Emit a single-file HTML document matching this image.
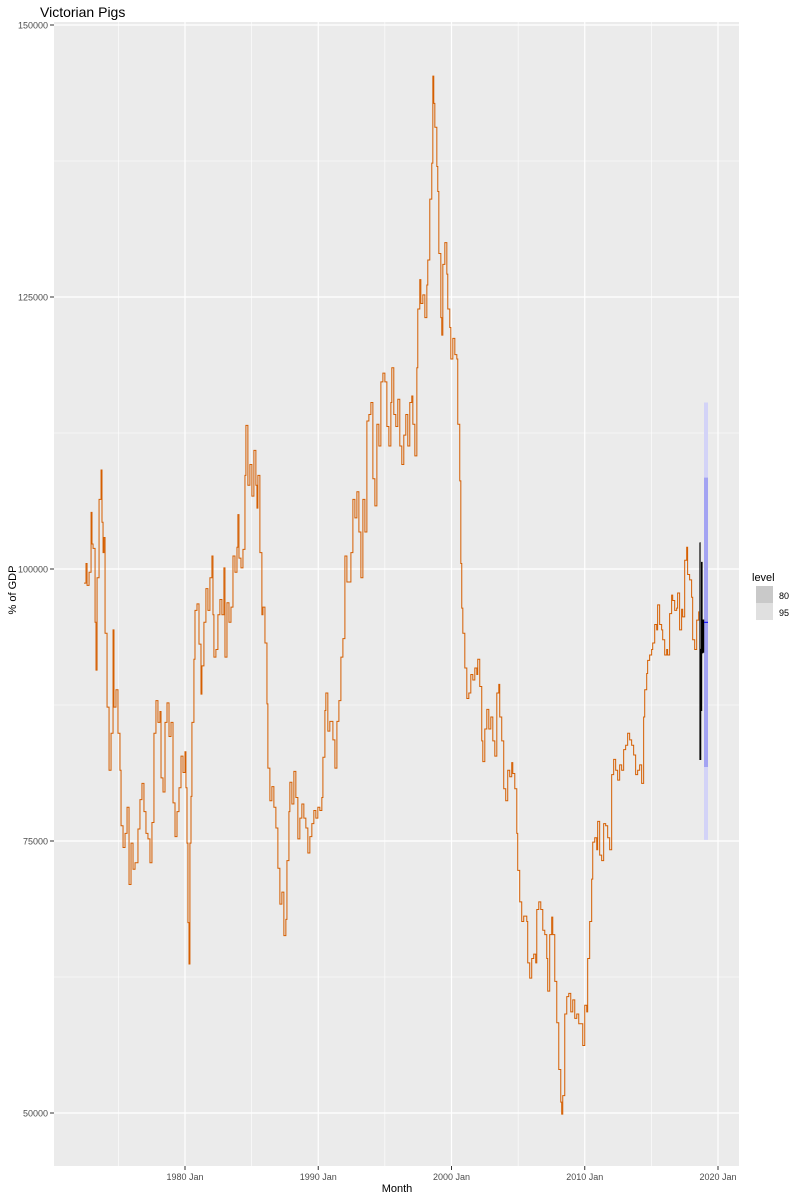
<!DOCTYPE html>
<html><head><meta charset="utf-8"><style>
body{margin:0;background:#fff;}
svg{display:block;font-family:"Liberation Sans",sans-serif;}
</style></head><body>
<svg id="chart" width="800" height="1200">
<text x="40" y="17" font-size="14" fill="#000">Victorian Pigs</text>
<rect x="54" y="22" width="685" height="1144" fill="#ebebeb"/>
<g id="grid"></g><g id="axes"></g><g id="series"></g>
<text x="397" y="1192" font-size="11" text-anchor="middle" fill="#000">Month</text>
<text transform="translate(16,590) rotate(-90)" font-size="11" text-anchor="middle" fill="#000">% of GDP</text>
<g>
<text x="752" y="581" font-size="11" fill="#000">level</text>
<rect x="756" y="586" width="17" height="17" fill="#c9c9c9"/>
<rect x="756" y="603" width="17" height="17" fill="#e0e0e0"/>
<text x="779" y="599" font-size="9" fill="#000">80</text>
<text x="779" y="616" font-size="9" fill="#000">95</text>
</g>
</svg>
<script>
const dates=[1972.42,1972.57,1972.65,1972.80,1972.95,1973.02,1973.10,1973.25,1973.32,1973.40,1973.55,1973.70,1973.77,1973.85,1973.92,1974.00,1974.15,1974.30,1974.45,1974.60,1974.67,1974.82,1974.97,1975.12,1975.20,1975.35,1975.50,1975.65,1975.80,1975.95,1976.10,1976.25,1976.47,1976.62,1976.77,1976.92,1977.07,1977.22,1977.37,1977.52,1977.67,1977.82,1977.97,1978.12,1978.20,1978.35,1978.50,1978.65,1978.80,1978.95,1979.10,1979.25,1979.40,1979.55,1979.70,1979.85,1980.00,1980.07,1980.15,1980.22,1980.30,1980.37,1980.45,1980.52,1980.67,1980.75,1980.90,1981.05,1981.20,1981.27,1981.42,1981.57,1981.72,1981.87,
1982.02,1982.10,1982.17,1982.32,1982.47,1982.62,1982.77,1982.92,1983.00,1983.15,1983.30,1983.45,1983.60,1983.75,1983.90,1983.97,1984.05,1984.20,1984.35,1984.50,1984.57,1984.72,1984.87,1985.02,1985.17,1985.32,1985.40,1985.47,1985.62,1985.77,1985.85,1986.00,1986.15,1986.22,1986.37,1986.52,1986.67,1986.82,1986.97,1987.12,1987.27,1987.42,1987.57,1987.65,1987.80,1987.87,1988.02,1988.17,1988.32,1988.47,1988.62,1988.77,1988.92,1989.07,1989.22,1989.37,1989.52,1989.67,1989.82,1989.97,1990.12,1990.27,1990.35,1990.50,1990.57,1990.72,1990.87,1991.10,1991.25,1991.40,1991.55,1991.70,
1991.85,1992.00,1992.15,1992.30,1992.45,1992.60,1992.75,1992.90,1993.05,1993.20,1993.35,1993.50,1993.65,1993.80,1993.95,1994.10,1994.25,1994.40,1994.55,1994.70,1994.85,1995.00,1995.15,1995.30,1995.45,1995.52,1995.67,1995.82,1995.97,1996.12,1996.27,1996.42,1996.57,1996.72,1996.87,1997.02,1997.10,1997.25,1997.40,1997.47,1997.62,1997.70,1997.85,1998.00,1998.15,1998.22,1998.37,1998.52,1998.60,1998.67,1998.75,1998.90,1998.97,1999.05,1999.20,1999.27,1999.35,1999.50,1999.65,1999.72,1999.87,1999.95,2000.10,2000.25,2000.40,2000.47,2000.62,2000.70,
2000.77,2000.85,2001.00,2001.15,2001.30,2001.45,2001.60,2001.75,2001.90,2001.97,2002.12,2002.27,2002.35,2002.50,2002.65,2002.80,2002.95,2003.10,2003.25,2003.40,2003.55,2003.62,2003.77,2003.92,2004.07,2004.22,2004.37,2004.52,2004.60,2004.75,2004.90,2004.97,2005.12,2005.27,2005.42,2005.65,2005.72,2005.87,2006.02,2006.17,2006.32,2006.40,2006.55,2006.70,2006.85,2007.00,2007.15,2007.22,2007.37,2007.52,2007.60,2007.75,2007.90,2008.05,2008.20,2008.27,2008.35,2008.50,2008.65,2008.80,2008.95,2009.10,2009.25,2009.40,2009.55,2009.70,2009.85,2010.00,2010.15,2010.22,2010.37,2010.52,2010.60,2010.75,2010.90,2010.97,2011.12,2011.27,2011.42,2011.57,2011.72,2011.87,
2012.02,2012.17,2012.32,2012.47,2012.62,2012.77,2012.92,2013.07,2013.22,2013.37,2013.52,2013.67,2013.82,2013.97,2014.12,2014.27,2014.42,2014.50,2014.65,2014.72,2014.87,2015.02,2015.10,2015.25,2015.40,2015.47,2015.62,2015.77,2015.85,2016.00,2016.15,2016.22,2016.37,2016.52,2016.60,2016.75,2016.90,2016.97,2017.12,2017.27,2017.35,2017.50,2017.65,2017.72,2017.87,2018.02,2018.10,2018.25,2018.40,2018.55];
const values=[98.7,100.5,98.5,99.7,105.2,102.3,101.9,95.1,90.7,99.2,106.4,109.1,104.3,101.5,102.9,94.1,87.3,81.5,84.9,94.4,87.3,88.9,84.9,81.5,76.4,74.4,75.7,78.1,71.0,74.8,72.4,73.0,76.1,78.8,80.3,77.7,75.7,75.2,73.0,76.7,84.9,87.9,85.9,86.9,80.8,79.5,85.9,87.7,84.6,85.9,78.5,75.4,77.7,79.9,82.8,81.3,83.2,79.9,74.8,67.5,63.7,74.8,79.1,85.9,91.7,96.2,96.8,93.1,88.5,91.1,95.1,98.2,96.2,99.2,
101.2,95.8,91.9,92.6,95.8,97.2,95.8,100.1,91.9,96.9,95.1,96.5,101.2,99.7,102.0,105.0,101.0,100.1,101.8,108.6,113.2,107.7,109.6,106.7,110.9,107.7,105.6,108.6,101.5,95.8,96.5,93.2,87.6,81.7,78.7,80.0,78.1,76.2,72.5,69.2,70.3,66.3,67.8,73.2,77.7,80.4,78.4,81.4,79.0,75.2,77.1,78.4,77.1,76.2,73.9,75.4,76.6,77.8,77.1,78.1,77.8,79.0,82.7,87.0,88.6,85.1,86.0,84.3,81.7,86.0,87.9,91.9,
93.6,101.2,98.8,98.8,101.5,106.4,104.7,107.1,103.4,99.2,106.4,103.4,113.6,114.2,115.3,108.3,105.8,113.3,111.3,117.2,118.0,117.2,113.1,111.3,115.3,118.5,114.2,113.1,115.6,111.3,109.6,112.3,114.2,111.3,115.3,115.9,113.3,110.4,118.5,123.9,126.6,124.4,125.2,123.1,126.1,128.4,134.0,137.3,145.3,142.8,140.6,137.0,134.7,129.0,123.1,121.5,128.0,130.0,127.1,123.9,122.2,119.3,121.2,119.7,119.3,113.3,108.1,100.5,
96.4,94.1,90.9,88.1,88.6,90.3,89.8,90.9,90.3,91.7,89.2,84.2,82.3,85.3,87.1,85.3,86.4,84.2,82.8,88.6,89.4,86.4,84.2,79.8,78.7,81.5,80.9,82.2,81.2,79.8,75.7,72.3,69.4,67.6,68.1,67.6,63.8,62.4,64.2,64.6,63.8,68.7,69.4,68.7,66.8,66.4,64.2,61.2,66.4,68.0,66.4,62.1,58.3,54.0,51.0,49.9,51.6,59.1,60.7,61.0,59.3,60.4,58.7,59.1,58.2,58.2,56.2,59.9,59.3,64.2,67.6,71.5,74.9,75.3,74.2,76.8,73.7,73.2,76.6,76.4,75.3,74.2,
81.1,82.5,81.5,80.6,82.0,81.5,83.4,83.8,84.9,84.3,83.8,82.9,81.1,81.5,82.0,80.3,86.4,88.9,90.4,91.6,92.1,92.6,93.2,94.9,94.4,96.7,94.9,94.4,93.5,92.1,92.6,92.1,95.9,97.6,97.1,96.2,96.4,97.8,94.4,96.3,95.6,100.8,102.0,99.5,99.0,97.4,93.5,92.6,95.3,96.1];
const testDates=[2018.62,2018.65,2018.70,2018.73,2018.77,2018.80,2018.85,2018.92];
const testValues=[102.4,82.5,92.6,87.0,100.6,92.3,95.3,92.3];
const fcDates=[2018.95,2019.25];
const fcHi95=[115.3,115.3];
const fcHi80=[108.4,108.4];
const fcLo80=[81.8,81.8];
const fcLo95=[75.1,75.1];
const fcMean=[95.1,95.1];
const yTicks=[50,75,100,125,150];
const yTickLabels=["50000","75000","100000","125000","150000"];
const yMinor=[62.5,87.5,112.5,137.5];
const xTicks=[1980,1990,2000,2010,2020];
const xTickLabels=["1980 Jan","1990 Jan","2000 Jan","2010 Jan","2020 Jan"];
const xMinor=[1975,1985,1995,2005,2015];

const NS="http://www.w3.org/2000/svg";
function xPx(t){return 185+(t-1980)*13.325;}
function yPx(v){return 1113-(v-50)*10.88;}
function mk(tag,attrs,parent){const e=document.createElementNS(NS,tag);for(const k in attrs)e.setAttribute(k,attrs[k]);parent.appendChild(e);return e;}
const grid=document.getElementById('grid'),axes=document.getElementById('axes'),ser=document.getElementById('series');
yMinor.forEach(v=>{const l=mk('line',{x1:54,x2:739,y1:yPx(v),y2:yPx(v),stroke:'#fff','stroke-width':0.6},grid);

});
xMinor.forEach(t=>{const l=mk('line',{x1:xPx(t),x2:xPx(t),y1:22,y2:1166,stroke:'#fff','stroke-width':0.6},grid);

});
yTicks.forEach((v,i)=>{const y=yPx(v);
const l=mk('line',{x1:54,x2:739,y1:y,y2:y,stroke:'#fff','stroke-width':1.2},grid);


const tk=mk('line',{x1:50,x2:54,y1:y,y2:y,stroke:'#333','stroke-width':1},axes);


const tx=mk('text',{x:48,y:y+3.5,'font-size':9,'text-anchor':'end',fill:'#4d4d4d'},axes);tx.textContent=yTickLabels[i];

});
xTicks.forEach((t,i)=>{const x=xPx(t);
const l=mk('line',{x1:x,x2:x,y1:22,y2:1166,stroke:'#fff','stroke-width':1.2},grid);


const tk=mk('line',{x1:x,x2:x,y1:1166,y2:1170,stroke:'#333','stroke-width':1},axes);


const tx=mk('text',{x:x,y:1180,'font-size':9,'text-anchor':'middle',fill:'#4d4d4d'},axes);tx.textContent=xTickLabels[i];

});
function band(hi,lo,fill,name){let d='';fcDates.forEach((t,i)=>{d+=(i?'L':'M')+xPx(t)+','+yPx(hi[i]);});
for(let i=fcDates.length-1;i>=0;i--)d+='L'+xPx(fcDates[i])+','+yPx(lo[i]);
const p=mk('path',{d:d+'Z',fill:fill},ser);

}
band(fcHi95,fcLo95,'#d3d3f7','forecast-band-95');
band(fcHi80,fcLo80,'#a3a3f2','forecast-band-80');
function stepLine(ds,vs,color,w,name){let d='';ds.forEach((t,i)=>{const x=xPx(t).toFixed(2),y=yPx(vs[i]).toFixed(2);
d+=i?('H'+x+'V'+y):('M'+x+','+y);});
const p=mk('path',{d:d,fill:'none',stroke:color,'stroke-width':w},ser);

}
stepLine(dates,values,'#d55e00',1,'history-line');
stepLine(testDates,testValues,'#000',1.2,'test-line');
stepLine(fcDates,fcMean,'#0000ff',1,'forecast-mean-line');
</script>
</body></html>
